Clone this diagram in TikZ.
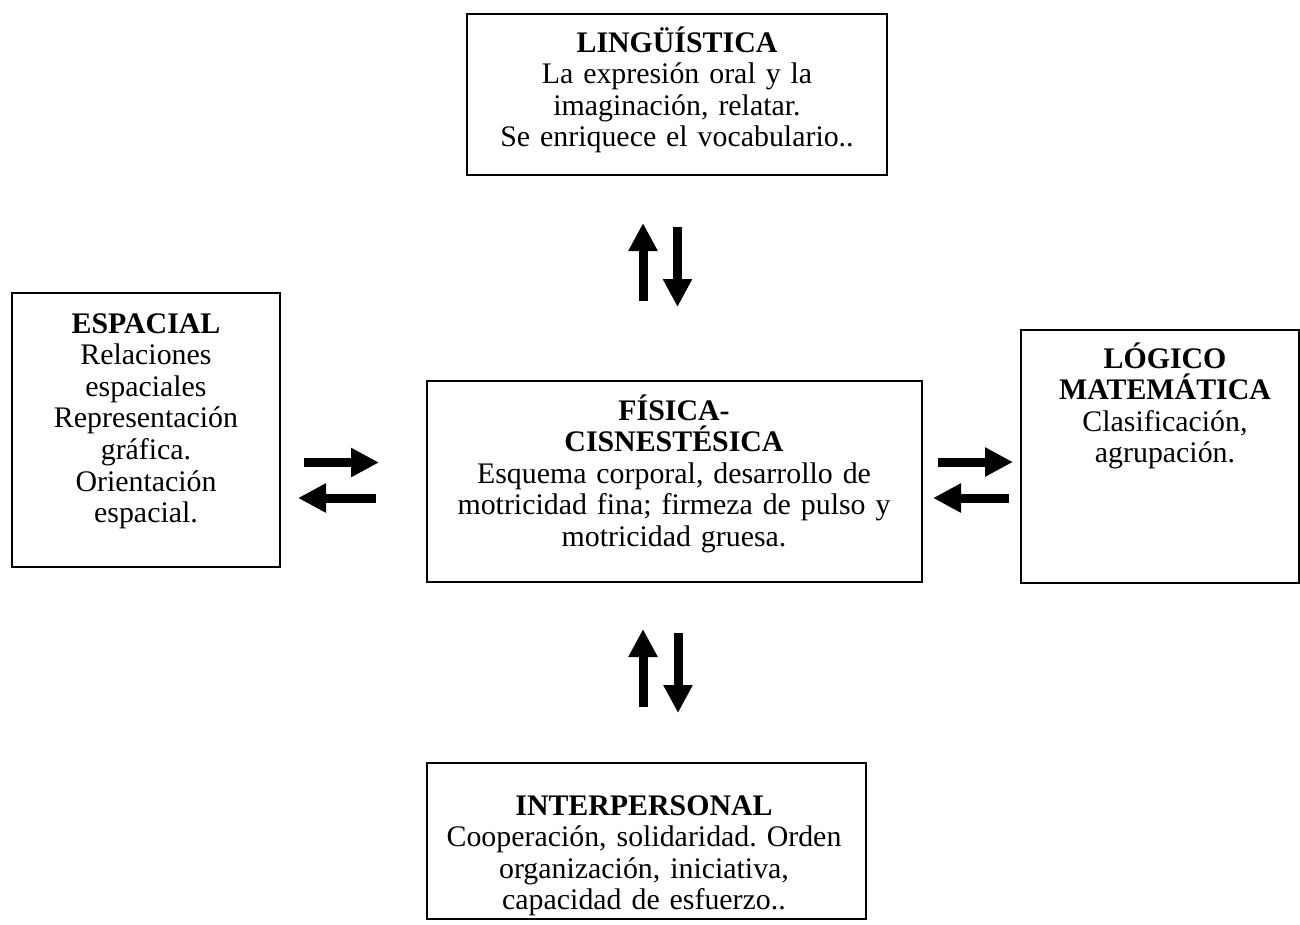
\documentclass[tikz,border=0pt]{standalone}
\usepackage{fontspec}
\setmainfont[WordSpace=0.85]{Liberation Serif}
\frenchspacing
\usetikzlibrary{arrows.meta,fit}

\tikzset{
  caja/.style={draw, line width=0.8pt, inner sep=0pt},
  texto/.style={align=center, inner sep=0pt, anchor=base,
    font=\fontsize{17}{18}\selectfont},
  flecha/.style={line width=0.18cm,
    -{Triangle[length=0.56cm,width=0.55cm]}}
}

\begin{document}
\begin{tikzpicture}[x=0.02cm,y=-0.02cm]
  \useasboundingbox (0,0) rectangle (1300,924);
  % cajas
  \node[caja, fit={(467,14) (887,175)}] (ling) {};
  \node[caja, fit={(12,293) (280,567)}] (espa) {};
  \node[caja, fit={(427,381) (922,582)}] (fisi) {};
  \node[caja, fit={(1021,330) (1299,583)}] (logi) {};
  \node[caja, fit={(427,763) (866,919)}] (inter) {};
  % textos
  \node[texto, text width=8cm] (lingtxt) at (677,52)
    {\textbf{LINGÜÍSTICA}\\La expresión oral y la\\imaginación, relatar.\\Se enriquece el vocabulario..};
  \node[texto, text width=5.2cm] (espatxt) at (146,333)
    {\textbf{ESPACIAL}\\Relaciones\\espaciales\\Representación\\gráfica.\\Orientación\\espacial.};
  \node[texto, text width=9.6cm] (fisitxt) at (674,420)
    {\textbf{FÍSICA-}\\\textbf{CISNESTÉSICA}\\Esquema corporal, desarrollo de\\motricidad fina; firmeza de pulso y\\motricidad gruesa.};
  \node[texto, text width=5.4cm] (logitxt) at (1165,368)
    {\textbf{LÓGICO}\\\textbf{MATEMÁTICA}\\Clasificación,\\agrupación.};
  \node[texto, text width=8.4cm] (intertxt) at (644,815)
    {\textbf{INTERPERSONAL}\\Cooperación, solidaridad. Orden\\organización, iniciativa,\\capacidad de esfuerzo..};
  % flechas
  \coordinate (a1) at (643,301);   \coordinate (b1) at (643,223);
  \coordinate (a2) at (677.5,227); \coordinate (b2) at (677.5,307);
  \coordinate (a3) at (643,707);   \coordinate (b3) at (643,629);
  \coordinate (a4) at (678,633);   \coordinate (b4) at (678,713);
  \coordinate (a5) at (304,462.5); \coordinate (b5) at (379,462.5);
  \coordinate (a6) at (376,498);   \coordinate (b6) at (298,498);
  \coordinate (a7) at (938,462);   \coordinate (b7) at (1013,462);
  \coordinate (a8) at (1009,498);  \coordinate (b8) at (933,498);
  \foreach \i in {1,...,8}
    \draw[flecha] (a\i) -- (b\i);
\end{tikzpicture}
\end{document}
